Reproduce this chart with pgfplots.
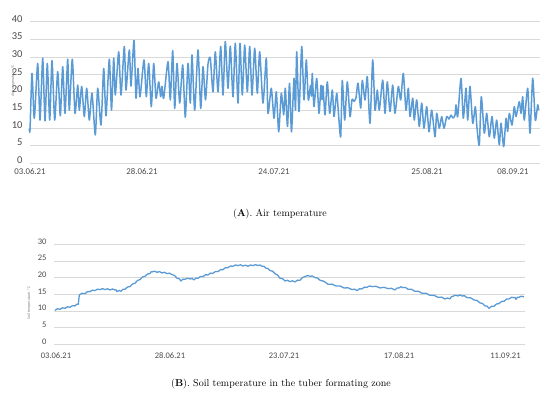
\documentclass[border=0pt]{standalone}
\usepackage{fontspec}
\usepackage{pgfplots}
\pgfplotsset{compat=1.18}
\newfontfamily\calibri{Carlito}
\definecolor{exblue}{HTML}{5B9BD5}
\definecolor{labgray}{HTML}{4A4A4A}
\definecolor{gridgray}{HTML}{D9D9D9}
\pgfplotsset{excel/.style={
  scale only axis, clip=false,
  axis line style={draw=none},
  major tick length=0pt,
  ymajorgrids, grid style={gridgray, line width=0.7pt},
  /pgf/number format/assume math mode=true,
  ticklabel style={text=labgray},
  yticklabel style={anchor=east, xshift=-4pt, yshift=3pt},
  xtick pos=bottom, ytick pos=left,
}}
\begin{document}
\begin{tikzpicture}
\useasboundingbox (0,0) rectangle (550pt,398pt);
% ---------------- Chart A ----------------
\begin{axis}[excel,
  at={(30pt,234.7pt)}, anchor=south west,
  width=510pt, height=141.6pt,
  xmin=30, xmax=540, ymin=0, ymax=40,
  ytick={0,5,...,40},
  yticklabel style={font=\calibri\fontsize{10.5}{11}\selectfont},
  xtick={30,142,274,427,513},
  xticklabels={03.06.21,28.06.21,24.07.21,25.08.21,08.09.21},
  xticklabel style={font=\calibri\fontsize{8.8}{9}\selectfont, anchor=center, yshift=-8.4pt},
]
\addplot[exblue, line width=1.5pt, line join=round, smooth, tension=0.4] coordinates {
(29.3,9.9)(30,9.4)(32,25.4)(34.3,12.7)(37.7,28.2)(40,12.2)(42.7,29.7)(45,12)(47.3,28.2)(49.7,12.2)(52,29)(54.7,12.2)(57.7,25.9)(60.3,13.4)(62.7,27.3)(65,14.1)(67.7,29.4)(69.3,15)(72.3,29.4)(75,14.1)(77.7,22.1)(79.3,15)(81.7,21.7)(84.3,13.2)(86.7,21.2)(89.3,12.2)(92,19.8)(95.3,8)(97.7,21.2)(101,10.8)(103.7,26.8)(106,13.4)(109.3,29.4)(111.5,15)(113.7,29.7)(115.3,19.3)(118.7,31.5)(121,19.3)(124.3,33)(126,20.7)(129.3,32)(131,21.8)(134,34.7)(136,18.4)(138,26.8)(140,18.8)(144,29.2)(146.3,18.8)(148.7,28.2)(151.3,16)(153.7,28.2)(156,18.4)(158.7,23)(160.7,18.8)(162,21.7)(163.7,18.4)(168,28.7)(170.3,17.9)(172.7,31.8)(174.7,15.5)(177,28.2)(179.7,17)(182.7,27.8)(185.3,13)(188,28.2)(190.3,17)(192,30.6)(194.7,15)(198,32)(200.7,15.5)(203,27.3)(205.5,17.9)(208,28)(210.3,29.7)(213,20.2)(215.3,31.5)(218,20.2)(220.7,33)(223,19.3)(225.3,34.4)(228,21.2)(230.3,33.1)(233,18.8)(235.3,33.9)(238,17)(240,33.9)(242.3,19.3)(244.7,33.4)(247.3,20.2)(249.7,33)(252,19.3)(254.7,32.5)(257.3,19.8)(259.7,31.5)(263,17)(266.3,29.7)(268,14.1)(271.3,21.2)(274,12.7)(276.3,20.2)(278.7,8.9)(281.3,19.8)(283.7,13.7)(285.3,21.2)(287.5,10.4)(289.5,22.6)(291.5,8.9)(294,24)(295.5,15)(296.7,31.5)(299,14.6)(301.7,33)(304,17.9)(306.3,29.2)(308.3,17.9)(310.5,22)(311.5,19)(312.3,25.4)(314,16)(316.7,24)(319,14.1)(321,22)(322,18)(323,21.8)(325,13.7)(327.3,23)(329.7,14.1)(332.3,20.7)(334,13.2)(336.7,19.8)(338.5,14)(340.7,7.5)(342.3,23.4)(344.7,12.2)(347.3,23)(350,13.2)(352,18)(354,17.5)(356,18.5)(358,22.6)(360.7,15.6)(362.3,23.4)(365,17.9)(367.3,24.5)(370,11.3)(372.7,29.2)(375,15)(377.3,20.7)(379.3,15)(382.7,23.5)(385,14.1)(387.3,23)(390,14.6)(392.7,22.1)(395,14.1)(398.3,21.7)(400.7,17.9)(403.3,25.4)(406,15)(408.3,21.2)(410,13.2)(412.7,18.4)(414.3,12.2)(416.7,17.9)(419.3,10.4)(421.7,17)(424,9.9)(426.7,16)(429,8.9)(431.7,15)(435,7.5)(436.7,14.1)(439.3,9.9)(441.7,13.2)(444,9.9)(446.7,13.2)(449,12.5)(451,13.6)(453,12.8)(455,13.6)(456,16.5)(457.7,13.2)(461,24)(463.3,12.7)(466,21.2)(467.7,12.2)(470,21.7)(472.7,11.3)(475.3,16)(477,10)(479.3,5.2)(481.3,18.8)(484.3,8.5)(486.7,14.1)(489.3,7.5)(492,13.2)(494.3,7.1)(496.7,12.2)(499.3,5.2)(501,11.3)(503.7,4.7)(506,12.7)(507.7,9)(509.3,14.1)(512,10.8)(514.3,16)(516,13.2)(519.3,17.4)(521,14.1)(522.7,18.8)(524.3,12.2)(527.7,21.2)(530,8.5)(532.7,24)(535.3,12.2)(537.7,16.5)(538.7,15)
};
\end{axis}
% ---------------- Chart B ----------------
\begin{axis}[excel,
  at={(54pt,53.7pt)}, anchor=south west,
  width=471pt, height=100pt,
  xmin=54, xmax=525, ymin=0, ymax=30,
  ytick={0,5,...,30},
  yticklabel style={font=\calibri\fontsize{8.5}{9}\selectfont},
  xtick={56,170,284,399,505.5},
  xticklabels={03.06.21,28.06.21,23.07.21,17.08.21,11.09.21},
  xticklabel style={font=\calibri\fontsize{8.5}{9}\selectfont, anchor=center, yshift=-11.4pt},
]
\addplot[exblue, line width=1.3pt, line join=round] coordinates {
(55,10.2)(57.5,10.65)(60,10.5)(62.5,10.95)(65,10.8)(67.5,11.25)(70,11.1)(72.5,11.6)(75,11.5)(77,12.05)(78.3,12.0)(79.3,14.8)(82,15.3)(85,15.2)(87.5,15.8)(90,15.8)(92.5,16.25)(95,16.1)(97.5,16.55)(100,16.4)(102.5,16.7)(105,16.4)(107.5,16.65)(110,16.3)(112.5,16.6)(115,16.3)(116,16.35)(117,15.8)(119,16.15)(121,15.9)(123,16.5)(125,16.5)(127.5,17.2)(130,17.3)(132.5,18.1)(135,18.3)(137.5,19.15)(140,19.4)(142.5,20.2)(145,20.4)(147.5,21.1)(150,21.2)(151,21.75)(152,21.7)(154.5,21.95)(157,21.6)(159.5,21.8)(162,21.4)(164.5,21.6)(167,21.2)(169.5,21.35)(172,20.9)(174.5,20.65)(177,19.8)(179,19.7)(181,19.0)(183,19.55)(185,19.5)(187.5,19.85)(190,19.6)(192,19.75)(194,19.3)(196,19.85)(198,19.8)(200.5,20.35)(203,20.3)(205.5,20.85)(208,20.8)(210.5,21.35)(213,21.3)(215.5,21.85)(218,21.8)(220.5,22.4)(223,22.4)(225.5,23.0)(228,23.0)(230.5,23.5)(233,23.4)(235.5,23.8)(238,23.6)(240.5,23.85)(243,23.5)(245.5,23.75)(248,23.4)(250.5,23.8)(253,23.6)(255.5,23.9)(258,23.6)(260,23.8)(262,23.4)(264,23.4)(266,22.8)(268,22.75)(270,22.1)(272.5,21.95)(275,21.2)(277.5,20.8)(280,19.8)(282.5,19.7)(285,19.0)(287.5,19.2)(290,18.8)(292.5,19.05)(295,18.7)(297.5,19.25)(300,19.2)(302.5,20.05)(305,20.3)(307.5,20.65)(310,20.4)(312.5,20.5)(315,20.0)(317.5,19.9)(320,19.2)(324,18.9)(328,18.0)(332,18.05)(336,17.5)(340,17.5)(344,16.9)(348,16.95)(352,16.4)(354.5,16.55)(357,16.1)(359.5,16.65)(362,16.6)(364.5,17.15)(367,17.1)(369.5,17.5)(372,17.3)(376,17.4)(380,16.9)(384,17.1)(388,16.7)(391.5,16.8)(395,16.3)(397,16.9)(399,16.9)(401,17.25)(403,17.0)(405.5,17.05)(408,16.5)(411.5,16.5)(415,15.9)(418.5,15.9)(422,15.3)(426,15.3)(430,14.7)(434,14.7)(438,14.1)(441.5,14.15)(445,13.6)(447.5,13.9)(450,13.6)(451.5,14.3)(453,14.4)(455.5,14.75)(458,14.5)(460,14.8)(462,14.5)(464.5,14.55)(467,14.0)(470.5,13.95)(474,13.3)(477,13.15)(480,12.4)(482.5,12.25)(485,11.5)(487,11.45)(489,10.8)(491.5,11.4)(494,11.4)(496.5,12.1)(499,12.2)(501.5,12.85)(504,12.9)(506.5,13.55)(509,13.6)(511.5,14.1)(514,14.0)(515,14.05)(516,13.5)(517.5,14.1)(519,14.1)(521.5,14.45)(524,14.2)
};
\end{axis}
% axis titles and captions
\node[rotate=90, font=\calibri\fontsize{4}{5}\selectfont, text=gray] at (13pt,317pt) {Air temperature, °C};
\node[rotate=90, font=\calibri\fontsize{4}{5}\selectfont, text=gray] at (29pt,95pt) {Soil temperature, °C};
\node[font=\fontsize{10}{12}\selectfont] at (280pt,184pt) {(\textbf{A}). Air temperature};
\node[font=\fontsize{10}{12}\selectfont] at (281pt,14pt) {(\textbf{B}). Soil temperature in the tuber formating zone};
\end{tikzpicture}
\end{document}
